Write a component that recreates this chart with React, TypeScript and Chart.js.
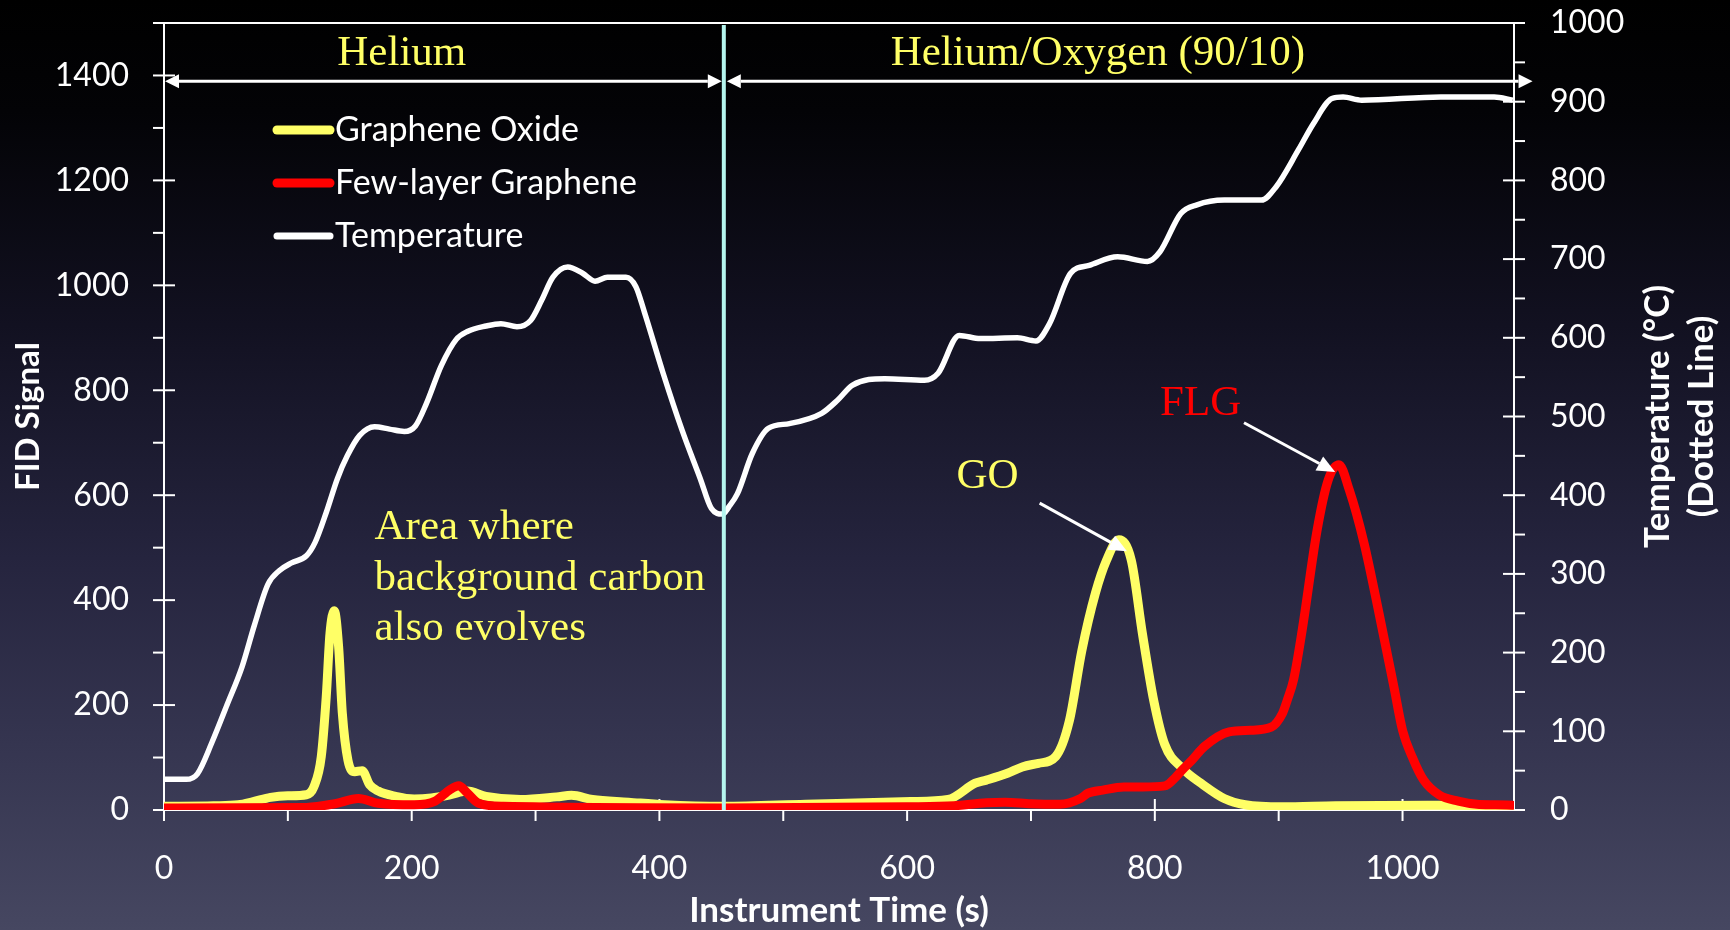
import React, { useEffect, useRef } from "react";
import { Chart, registerables } from "chart.js";

Chart.register(...registerables);

// ---------------- data ----------------
const TIME_GO = [0, 40, 60, 72, 86, 100, 115, 121, 127, 131, 134, 137.5, 141, 144, 148.5, 154, 160, 166, 173, 187, 202, 216, 231, 245, 260, 288, 317, 329, 346, 375, 404, 452, 518, 603, 633, 655, 664, 681, 693, 706, 720, 731, 741, 752, 761, 771, 781, 790, 799, 808, 822, 839, 856, 873, 903, 946, 1031, 1089];
const SIGNAL_GO = [7, 8, 10, 16, 24, 27, 29, 44, 102, 216, 336, 380, 311, 184, 95, 73, 75, 48, 36, 26, 21, 23, 29, 36, 26, 20, 25, 28, 20, 15, 10, 7, 11, 16, 20, 51, 57, 70, 82, 89, 102, 170, 303, 413, 476, 515, 476, 336, 210, 125, 80, 48, 22, 10, 6, 8, 9, 8];

const TIME_FLG = [0, 115, 138, 157, 173, 202, 219, 231, 238, 245, 254, 274, 452, 600, 638, 664, 679, 700, 723, 740, 746, 758, 775, 790, 808, 817, 822, 830, 840, 860, 877, 894, 903, 907, 912, 919, 931, 940, 948.6, 957, 969, 981, 993, 1000, 1008, 1017, 1030, 1045, 1060, 1075, 1089];
const SIGNAL_FLG = [4, 5, 12, 22, 13, 10, 17, 39, 46, 32, 13, 7, 4, 6, 8, 14, 15, 12, 11, 22, 32, 38, 44, 44, 46, 63, 76, 95, 121, 149, 152, 158, 184, 210, 248, 343, 533, 629, 658, 610, 508, 375, 235, 152, 100, 57, 28, 17, 11, 10, 9];

const TIME_TEMP = [0, 18, 27, 39, 51, 63, 73, 84, 93, 103, 115, 122, 131, 140, 148, 158, 170, 182, 194, 203, 212, 224, 236, 245, 260, 272, 285, 296, 305, 314, 326, 338, 348, 358, 373, 381, 388, 403, 418, 433, 442, 451, 456, 463, 475, 488, 505, 531, 544, 556, 582, 614, 625, 642, 659, 689, 704, 715, 732, 747, 770, 794, 804, 821, 834, 856, 886, 898, 916, 928, 943, 952, 967, 1031, 1074, 1089];
const TEMP_C = [39, 39, 46, 87, 134, 182, 235, 287, 304, 314, 323, 340, 378, 421, 450, 476, 487, 484, 481, 488, 517, 565, 598, 608, 615, 618, 614, 622, 648, 677, 690, 682, 672, 677, 677, 665, 632, 555, 484, 421, 383, 376, 385, 402, 453, 485, 491, 504, 521, 540, 548, 546, 555, 603, 599, 600, 596, 618, 682, 692, 703, 697, 709, 758, 769, 775, 775, 792, 839, 872, 904, 906, 902, 906, 906, 902];

const SERIES_LABELS = ["Graphene Oxide", "Few-layer Graphene", "Temperature"];

const X_TICKS = [0, 200, 400, 600, 800, 1000];
const X_MINOR_TICKS = [100, 300, 500, 700, 900];
const FID_TICKS = [0, 200, 400, 600, 800, 1000, 1200, 1400];
const FID_MINOR_TICKS = [100, 300, 500, 700, 900, 1100, 1300, 1500];
const TEMP_TICKS = [0, 100, 200, 300, 400, 500, 600, 700, 800, 900, 1000];
const TEMP_MINOR_TICKS = [50, 150, 250, 350, 450, 550, 650, 750, 850, 950];

const X_MAX = 1090;
const FID_MAX = 1500;
const TEMP_MAX = 1000;

const X_TITLE = "Instrument Time (s)";
const FID_TITLE = "FID Signal";
const TEMP_TITLE = ["Temperature (°C)", "(Dotted Line)"];

// annotations (in data units)
const GAS_SWITCH_TIME = 452;
const GAS_ARROW_SIGNAL = 1389;
const GAS_ARROW_END_TIME = 1105;
const GAS_LABELS = [
  { text: "Helium", time: 192, signal: 1419 },
  { text: "Helium/Oxygen (90/10)", time: 754, signal: 1419 },
];
const AREA_NOTE_LINES = ["Area where", "background carbon", "also evolves"];
const AREA_NOTE_TIME = 170;
const AREA_NOTE_SIGNAL = 516;
const AREA_NOTE_STEP = 96;
const PEAK_NOTES = [
  { text: "GO", colorKey: 0, time: 665, signal: 613, fromTime: 707, fromSignal: 585, toTime: 777.5, toSignal: 493 },
  { text: "FLG", colorKey: 1, time: 837, signal: 752, fromTime: 872, fromSignal: 738, toTime: 945.6, toSignal: 644 },
];

// ---------------- styles ----------------
const YELLOW = "#FFFF66";
const RED = "#FF0000";
const WHITE = "#FFFFFF";
const CYAN = "#B4F5EE";
const SERIES_COLORS = [YELLOW, RED, WHITE];
const SANS = "Lato, 'Open Sans', sans-serif";
const SERIF = "'Liberation Serif', 'Times New Roman', serif";

const pts = (xs: number[], ys: number[]) => xs.map((x, i) => ({ x, y: ys[i] }));

function line(ctx: CanvasRenderingContext2D, x1: number, y1: number, x2: number, y2: number) {
  ctx.beginPath();
  ctx.moveTo(x1, y1);
  ctx.lineTo(x2, y2);
  ctx.stroke();
}

function arrowHead(ctx: CanvasRenderingContext2D, fx: number, fy: number, tx: number, ty: number, len: number, half: number) {
  const a = Math.atan2(ty - fy, tx - fx);
  const bx = tx - len * Math.cos(a);
  const by = ty - len * Math.sin(a);
  ctx.beginPath();
  ctx.moveTo(tx, ty);
  ctx.lineTo(bx + half * Math.sin(a), by - half * Math.cos(a));
  ctx.lineTo(bx - half * Math.sin(a), by + half * Math.cos(a));
  ctx.closePath();
  ctx.fill();
  return [bx, by];
}

function doubleArrow(ctx: CanvasRenderingContext2D, x1: number, x2: number, y: number) {
  const [b1x] = arrowHead(ctx, x2, y, x1, y, 14, 7);
  const [b2x] = arrowHead(ctx, x1, y, x2, y, 14, 7);
  line(ctx, b1x, y, b2x, y);
}

const decorPlugin = {
  id: "decor",
  beforeDatasetsDraw(chart: any) {
    const ctx: CanvasRenderingContext2D = chart.ctx;
    const { left, right, top, bottom } = chart.chartArea;
    const xs = chart.scales.x;
    const ys = chart.scales.y;
    const ts = chart.scales.y1;
    const T = 11;
    ctx.save();
    ctx.strokeStyle = WHITE;
    ctx.lineWidth = 2;
    line(ctx, left, top, left, bottom);
    line(ctx, right, top, right, bottom);
    line(ctx, left, bottom, right, bottom);
    line(ctx, left, top, right, top);
    X_TICKS.forEach((v) => { const p = xs.getPixelForValue(v); line(ctx, p, bottom - T, p, bottom + T); });
    X_MINOR_TICKS.forEach((v) => { const p = xs.getPixelForValue(v); line(ctx, p, bottom, p, bottom + T); });
    FID_TICKS.forEach((v) => { const p = ys.getPixelForValue(v); line(ctx, left - T, p, left + T, p); });
    FID_MINOR_TICKS.forEach((v) => { const p = ys.getPixelForValue(v); line(ctx, left - T, p, left, p); });
    TEMP_TICKS.forEach((v) => { const p = ts.getPixelForValue(v); line(ctx, right - T, p, right + T, p); });
    TEMP_MINOR_TICKS.forEach((v) => { const p = ts.getPixelForValue(v); line(ctx, right, p, right + T, p); });
    ctx.restore();
  },
  afterDatasetsDraw(chart: any) {
    const ctx: CanvasRenderingContext2D = chart.ctx;
    const { left, right, top, bottom } = chart.chartArea;
    const xs = chart.scales.x;
    const ys = chart.scales.y;
    ctx.save();

    // gas switch line
    const sx = xs.getPixelForValue(GAS_SWITCH_TIME);
    ctx.strokeStyle = CYAN;
    ctx.lineWidth = 4;
    line(ctx, sx, top + 2, sx, bottom);

    // gas arrows
    ctx.strokeStyle = WHITE;
    ctx.fillStyle = WHITE;
    ctx.lineWidth = 3;
    const ay = ys.getPixelForValue(GAS_ARROW_SIGNAL);
    doubleArrow(ctx, left + 1, sx - 2, ay);
    doubleArrow(ctx, sx + 3, xs.getPixelForValue(GAS_ARROW_END_TIME), ay);

    // serif yellow labels
    ctx.font = `43px ${SERIF}`;
    ctx.fillStyle = YELLOW;
    ctx.textBaseline = "alphabetic";
    ctx.textAlign = "center";
    GAS_LABELS.forEach((g) => ctx.fillText(g.text, xs.getPixelForValue(g.time), ys.getPixelForValue(g.signal)));
    ctx.textAlign = "left";
    const nx = xs.getPixelForValue(AREA_NOTE_TIME);
    AREA_NOTE_LINES.forEach((t, i) => ctx.fillText(t, nx, ys.getPixelForValue(AREA_NOTE_SIGNAL - i * AREA_NOTE_STEP)));

    // peak notes
    PEAK_NOTES.forEach((n) => {
      ctx.fillStyle = SERIES_COLORS[n.colorKey];
      ctx.textAlign = "center";
      ctx.fillText(n.text, xs.getPixelForValue(n.time), ys.getPixelForValue(n.signal));
      const fx = xs.getPixelForValue(n.fromTime), fy = ys.getPixelForValue(n.fromSignal);
      const tx = xs.getPixelForValue(n.toTime), ty = ys.getPixelForValue(n.toSignal);
      ctx.fillStyle = WHITE;
      ctx.strokeStyle = WHITE;
      ctx.lineWidth = 3;
      const [bx, by] = arrowHead(ctx, fx, fy, tx, ty, 18, 8);
      line(ctx, fx, fy, bx, by);
    });

    // legend
    chart.data.datasets.forEach((ds: any, i: number) => {
      const cy = top + 107 + i * 53;
      ctx.strokeStyle = ds.borderColor;
      ctx.lineWidth = i === 2 ? 7 : 9;
      ctx.lineCap = "round";
      line(ctx, left + 113, cy, left + 166, cy);
      ctx.fillStyle = WHITE;
      ctx.font = `34px ${SANS}`;
      ctx.textAlign = "left";
      ctx.textBaseline = "middle";
      ctx.fillText(ds.label, left + 171, cy);
    });

    // axis titles
    ctx.fillStyle = WHITE;
    ctx.textAlign = "center";
    ctx.textBaseline = "middle";
    const cyMid = (top + bottom) / 2;
    ctx.save();
    ctx.font = `bold 33px ${SANS}`;
    ctx.translate(left - 136, cyMid);
    ctx.rotate(-Math.PI / 2);
    ctx.fillText(FID_TITLE, 0, 0);
    ctx.restore();
    ctx.font = `bold 35px ${SANS}`;
    ctx.fillText(X_TITLE, (left + right) / 2, bottom + 101);
    TEMP_TITLE.forEach((t, i) => {
      ctx.save();
      ctx.translate(right + 144 + i * 44, cyMid);
      ctx.rotate(-Math.PI / 2);
      ctx.fillText(t, 0, 0);
      ctx.restore();
    });

    ctx.restore();
  },
};

const tickFont = { family: SANS, size: 32 };
const plainLabel = (v: any) => String(v);
const noPadV = (s: any) => { s.paddingTop = 0; s.paddingBottom = 0; };
const noPadH = (s: any) => { s.paddingLeft = 0; s.paddingRight = 0; };

export default function App() {
  const ref = useRef<HTMLCanvasElement | null>(null);
  useEffect(() => {
    if (!ref.current) return;
    const chart = new Chart(ref.current, {
      type: "line",
      data: {
        datasets: [
          { label: SERIES_LABELS[0], data: pts(TIME_GO, SIGNAL_GO), borderColor: YELLOW, backgroundColor: YELLOW, borderWidth: 9, pointRadius: 0, cubicInterpolationMode: "monotone", yAxisID: "y", order: 2, borderJoinStyle: "round", borderCapStyle: "round" },
          { label: SERIES_LABELS[1], data: pts(TIME_FLG, SIGNAL_FLG), borderColor: RED, backgroundColor: RED, borderWidth: 9, pointRadius: 0, cubicInterpolationMode: "monotone", yAxisID: "y", order: 1, borderJoinStyle: "round", borderCapStyle: "round" },
          { label: SERIES_LABELS[2], data: pts(TIME_TEMP, TEMP_C), borderColor: WHITE, backgroundColor: WHITE, borderWidth: 5.5, pointRadius: 0, cubicInterpolationMode: "monotone", yAxisID: "y1", order: 0, borderJoinStyle: "round" },
        ],
      } as any,
      options: {
        animation: false,
        responsive: false,
        maintainAspectRatio: false,
        layout: { padding: { top: 23, left: 0, right: 0, bottom: 0 } },
        plugins: { legend: { display: false }, tooltip: { enabled: false } },
        scales: {
          x: {
            type: "linear",
            position: "bottom",
            min: 0,
            max: X_MAX,
            afterBuildTicks: (s: any) => { s.ticks = X_TICKS.map((v) => ({ value: v })); },
            afterFit: (s: any) => { s.height = 120; noPadH(s); },
            ticks: { color: WHITE, font: tickFont, padding: 39, maxRotation: 0, autoSkip: false, callback: plainLabel },
            grid: { display: false, drawTicks: false },
            border: { display: false },
          },
          y: {
            type: "linear",
            position: "left",
            min: 0,
            max: FID_MAX,
            afterBuildTicks: (s: any) => { s.ticks = FID_TICKS.map((v) => ({ value: v })); },
            afterFit: (s: any) => { s.width = 164; noPadV(s); },
            ticks: { color: WHITE, font: tickFont, padding: 35, autoSkip: false, callback: plainLabel },
            grid: { display: false, drawTicks: false },
            border: { display: false },
          },
          y1: {
            type: "linear",
            position: "right",
            min: 0,
            max: TEMP_MAX,
            afterBuildTicks: (s: any) => { s.ticks = TEMP_TICKS.map((v) => ({ value: v })); },
            afterFit: (s: any) => { s.width = 216; noPadV(s); },
            ticks: { color: WHITE, font: tickFont, padding: 36, autoSkip: false, callback: plainLabel },
            grid: { display: false, drawTicks: false },
            border: { display: false },
          },
        },
      } as any,
      plugins: [decorPlugin],
    });
    return () => chart.destroy();
  }, []);

  return (
    <div
      style={{
        position: "absolute",
        left: 0,
        top: 0,
        width: 1730,
        height: 930,
        background:
          "linear-gradient(to bottom, rgb(0,0,0) 0%, rgb(3,3,6) 12%, rgb(18,17,33) 35%, rgb(37,36,62) 60%, rgb(53,53,80) 80%, rgb(70,71,97) 100%)",
      }}
    >
      <canvas ref={ref} width={1730} height={930} style={{ display: "block", width: 1730, height: 930 }} />
    </div>
  );
}
